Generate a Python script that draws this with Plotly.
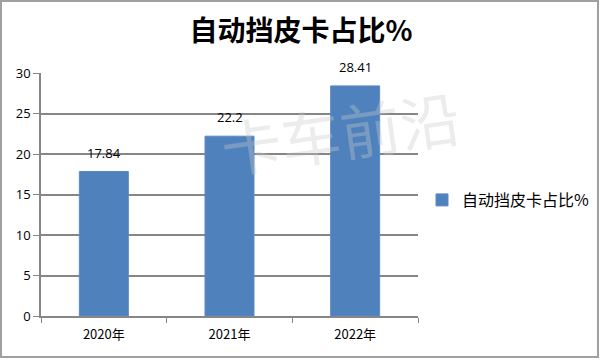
import plotly.graph_objects as go

categories = ["2020年", "2021年", "2022年"]
values = [17.84, 22.2, 28.41]
labels = ["17.84", "22.2", "28.41"]
series_name = "自动挡皮卡占比%"
title_text = "自动挡皮卡占比%"
watermark = "卡车前沿"

W, H = 600, 360
L, R, T, B = 41, 182, 73, 44
pw, ph = W - L - R, H - T - B

def px_x(x):
    return (x - L) / pw

def px_y(y):
    return (H - B - y) / ph

fig = go.Figure()
fig.add_trace(go.Bar(
    x=categories, y=values, name=series_name,
    marker=dict(color="#4F81BD", line=dict(color="#5B8BC6", width=1)),
    width=0.39,
))

for c, v, t in zip(categories, values, labels):
    fig.add_annotation(x=c, y=v, text=t, showarrow=False, yshift=19,
                       xanchor="center", yanchor="middle",
                       font=dict(size=13, color="#000000",
                                 family="Open Sans, Liberation Sans, sans-serif"))

fig.update_layout(
    width=W, height=H,
    margin=dict(l=L, r=R, t=T, b=B, autoexpand=False),
    paper_bgcolor="white", plot_bgcolor="white",
    title=dict(text="<b>" + title_text + "</b>", x=px_x(301), xanchor="center", xref="paper",
               y=(H - 31) / H, yanchor="middle",
               font=dict(size=28, color="#000000", family="Noto Sans CJK SC")),
    showlegend=True,
    legend=dict(x=px_x(422), y=px_y(200), xanchor="left", yanchor="middle",
                font=dict(size=16, color="#000000", family="Noto Sans CJK SC"),
                bgcolor="rgba(0,0,0,0)", itemwidth=30),
    xaxis=dict(showline=True, linecolor="#868686", linewidth=1.5,
               ticks="outside", tickson="boundaries", ticklen=5, tickcolor="#868686",
               tickfont=dict(size=13, color="#000000", family="Noto Sans CJK SC"),
               ticklabelstandoff=6, showgrid=False),
    yaxis=dict(range=[0, 30], dtick=5, showline=True, linecolor="#868686", linewidth=1.5,
               ticks="outside", ticklen=6, tickcolor="#868686",
               showgrid=True, gridcolor="#868686", gridwidth=1.5, zeroline=False,
               tickfont=dict(size=13, color="#000000", family="Open Sans, Liberation Sans, sans-serif")),
    bargap=0.61,
)

fig.add_annotation(text=watermark, xref="paper", yref="paper",
                   x=px_x(340), y=px_y(130), xanchor="center", yanchor="middle",
                   showarrow=False, textangle=-8,
                   font=dict(size=60, color="rgba(200,200,200,0.35)", family="Noto Sans CJK SC"))

fig.add_shape(type="rect", xref="paper", yref="paper",
              x0=px_x(1), x1=px_x(598), y0=px_y(357), y1=px_y(1),
              line=dict(color="#A0A0A0", width=2), layer="above")

fig.write_html("out.html")
